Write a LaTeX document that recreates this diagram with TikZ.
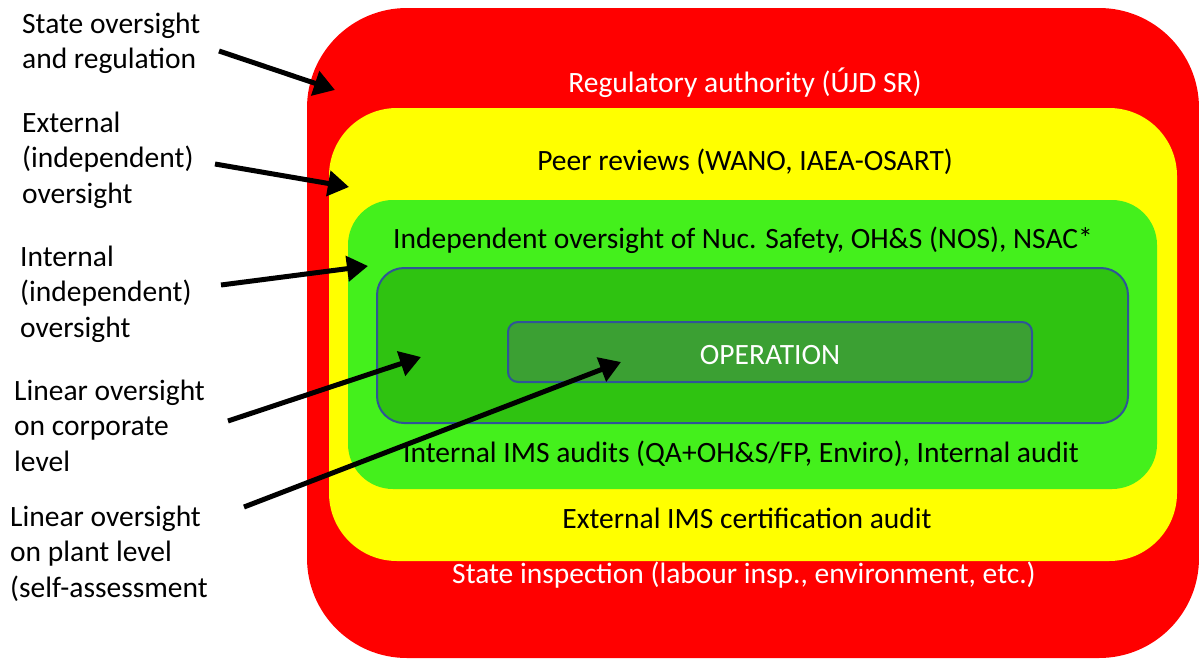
\documentclass[tikz,border=0pt]{standalone}
\usepackage{fontspec}
\setmainfont{Carlito}
\usetikzlibrary{arrows.meta}
\definecolor{cred}{HTML}{FF0000}
\definecolor{cyellow}{HTML}{FFFF00}
\definecolor{clgreen}{HTML}{44F01C}
\definecolor{cdgreen}{HTML}{2FC311}
\definecolor{copgreen}{HTML}{3BA033}
\definecolor{cborder}{HTML}{2F5597}
\begin{document}
\begin{tikzpicture}[x=1pt,y=-1pt,
  font=\fontsize{29.5}{35.5}\selectfont,
  layer/.style={inner sep=0pt, outer sep=0pt},
  txt/.style={inner sep=0pt, anchor=base},
  wtxt/.style={txt, text=white},
  lbl/.style={inner sep=0pt, anchor=base west, align=left},
  arr/.style={line width=5pt, -{Triangle[length=21pt,width=25pt]}}]
\useasboundingbox (0,0) rectangle (1199,659);
% nested boxes
\node[layer, fill=cred, rounded corners=100pt, minimum width=892pt, minimum height=650pt] (regbox) at (753,333) {};
\node[layer, fill=cyellow, rounded corners=68pt, minimum width=848pt, minimum height=453pt] (peerbox) at (753,334.5) {};
\node[layer, fill=clgreen, rounded corners=45pt, minimum width=809pt, minimum height=289pt] (indbox) at (752.5,344.5) {};
\node[layer, fill=cdgreen, draw=cborder, line width=2pt, rounded corners=27pt, minimum width=751pt, minimum height=155pt] (corpbox) at (752.5,345.5) {};
\node[layer, fill=copgreen, draw=cborder, line width=2pt, rounded corners=10pt, minimum width=524pt, minimum height=60pt] (opbox) at (770,352) {};
% box texts
\node[wtxt] (regt) at (745,92) {Regulatory authority (ÚJD SR)};
\node[txt] (peert) at (745,170) {Peer reviews (WANO, IAEA-OSART)};
\node[txt] (indt) at (743,248) {Independent oversight of Nuc. Safety, OH\&S (NOS), NSAC*};
\node[wtxt] (opt) at (770,364) {OPERATION};
\node[txt] (intt) at (741,462) {Internal IMS audits (QA+OH\&S/FP, Enviro), Internal audit};
\node[txt] (extt) at (747,528) {External IMS certification audit};
\node[wtxt] (statet) at (744,583) {State inspection (labour insp., environment, etc.)};
% left labels (base = last line)
\node[lbl] (l1) at (22,68.5) {State oversight\\and regulation};
\node[lbl] (l2) at (22,203) {External\\(independent)\\oversight};
\node[lbl] (l3) at (20,337) {Internal\\(independent)\\oversight};
\node[lbl] (l4) at (14,471) {Linear oversight\\on corporate\\level};
\node[lbl] (l5) at (10,597) {Linear oversight\\on plant level\\(self-assessment};
% arrows
\coordinate (s1) at (219,51);  \coordinate (t1) at (335,90);
\coordinate (s2) at (215,164); \coordinate (t2) at (349,187);
\coordinate (s3) at (221,285); \coordinate (t3) at (368,266);
\coordinate (s4) at (228,421); \coordinate (t4) at (421,357);
\coordinate (s5) at (244,507); \coordinate (t5) at (621,362);
\draw[arr] (s1) -- (t1);
\draw[arr] (s2) -- (t2);
\draw[arr] (s3) -- (t3);
\draw[arr] (s4) -- (t4);
\draw[arr] (s5) -- (t5);
\end{tikzpicture}
\end{document}
